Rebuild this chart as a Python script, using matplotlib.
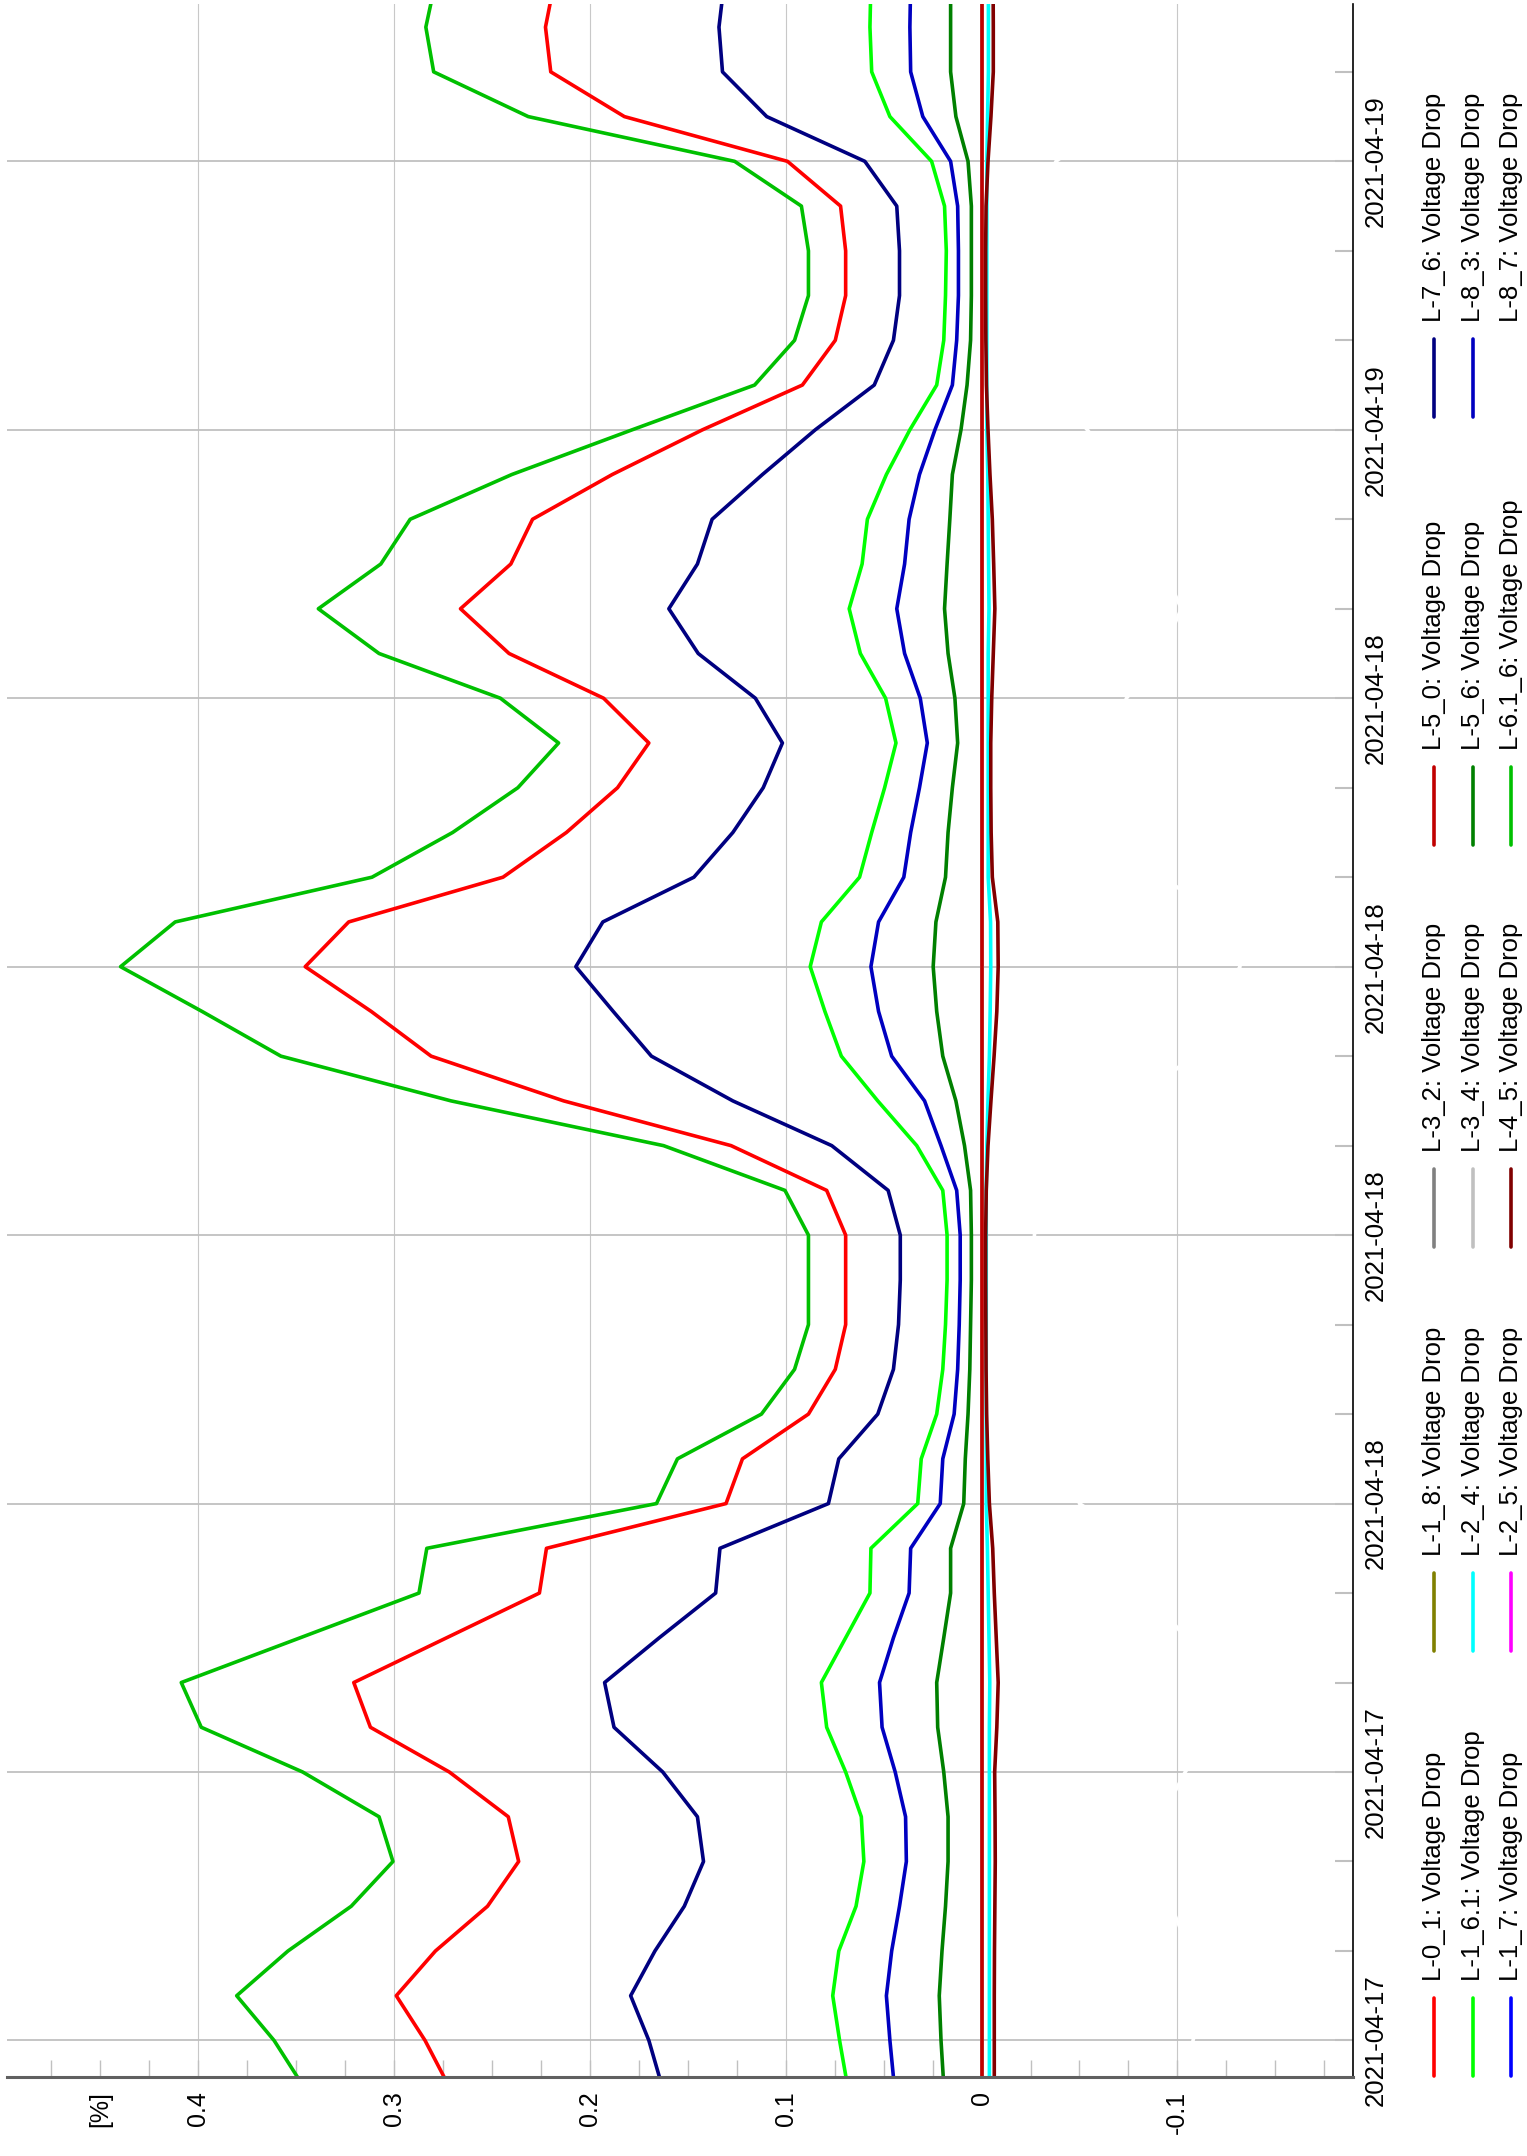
import matplotlib
matplotlib.use('Agg')
import matplotlib.pyplot as plt
import matplotlib.dates as mdates
import pandas as pd
from matplotlib.lines import Line2D
from matplotlib.ticker import MultipleLocator

plt.rcParams['font.family'] = ['Liberation Sans', 'DejaVu Sans']

# hourly samples, 2021-04-17 11:00 .. 2021-04-19 10:00
times = pd.date_range('2021-04-17 11:00', '2021-04-19 10:00', freq='h')

# voltage drop in %
l_0_1 = [0.2723, 0.2842, 0.2989, 0.2789, 0.2523, 0.2364, 0.2417, 0.2718, 0.3121, 0.3206, 0.2732, 0.2258,
         0.2222, 0.1305, 0.1221, 0.0884, 0.0747, 0.0694, 0.0694, 0.0694, 0.0791, 0.1279, 0.2134, 0.2811,
         0.3117, 0.3454, 0.3232, 0.2444, 0.2120, 0.1859, 0.1699, 0.1930, 0.2413, 0.2661, 0.2404, 0.2293,
         0.1886, 0.1425, 0.0915, 0.0747, 0.0694, 0.0694, 0.0720, 0.0991, 0.1824, 0.2200, 0.2227, 0.2182]
l_1_6_1 = [0.0685, 0.0725, 0.0760, 0.0729, 0.0641, 0.0601, 0.0614, 0.0694, 0.0791, 0.0818, 0.0694, 0.0570,
           0.0565, 0.0326, 0.0308, 0.0229, 0.0198, 0.0184, 0.0176, 0.0176, 0.0198, 0.0331, 0.0530, 0.0716,
           0.0800, 0.0875, 0.0818, 0.0623, 0.0561, 0.0495, 0.0437, 0.0490, 0.0619, 0.0676, 0.0610, 0.0583,
           0.0486, 0.0366, 0.0229, 0.0193, 0.0184, 0.0180, 0.0189, 0.0255, 0.0468, 0.0561, 0.0570, 0.0565]
l_2_4 = [-0.0040, -0.0040, -0.0040, -0.0040, -0.0040, -0.0040, -0.0040, -0.0040, -0.0040, -0.0042, -0.0038, -0.0034,
         -0.0030, -0.0024, -0.0024, -0.0024, -0.0024, -0.0024, -0.0024, -0.0024, -0.0024, -0.0027, -0.0033, -0.0040,
         -0.0044, -0.0047, -0.0046, -0.0034, -0.0034, -0.0034, -0.0034, -0.0034, -0.0034, -0.0038, -0.0036, -0.0034,
         -0.0032, -0.0027, -0.0027, -0.0027, -0.0027, -0.0027, -0.0027, -0.0027, -0.0031, -0.0035, -0.0035, -0.0035]
l_4_5 = [-0.0065, -0.0065, -0.0065, -0.0066, -0.0068, -0.0070, -0.0069, -0.0067, -0.0078, -0.0085, -0.0075, -0.0065,
         -0.0057, -0.0040, -0.0032, -0.0026, -0.0023, -0.0022, -0.0021, -0.0021, -0.0024, -0.0033, -0.0048, -0.0064,
         -0.0078, -0.0085, -0.0083, -0.0055, -0.0049, -0.0047, -0.0047, -0.0052, -0.0060, -0.0068, -0.0062, -0.0055,
         -0.0043, -0.0033, -0.0025, -0.0022, -0.0021, -0.0021, -0.0023, -0.0033, -0.0048, -0.0060, -0.0060, -0.0059]
l_5_6 = [0.0193, 0.0207, 0.0216, 0.0202, 0.0184, 0.0171, 0.0171, 0.0193, 0.0224, 0.0229, 0.0193, 0.0158,
         0.0158, 0.0091, 0.0083, 0.0069, 0.0060, 0.0056, 0.0052, 0.0052, 0.0056, 0.0087, 0.0131, 0.0198,
         0.0229, 0.0247, 0.0233, 0.0184, 0.0171, 0.0149, 0.0122, 0.0136, 0.0171, 0.0189, 0.0176, 0.0162,
         0.0149, 0.0105, 0.0074, 0.0056, 0.0052, 0.0052, 0.0052, 0.0069, 0.0131, 0.0158, 0.0158, 0.0158]
l_6_1_6 = [0.3467, 0.3613, 0.3804, 0.3542, 0.3219, 0.3006, 0.3077, 0.3467, 0.3985, 0.4087, 0.3480, 0.2873,
           0.2833, 0.1660, 0.1553, 0.1124, 0.0955, 0.0884, 0.0884, 0.0884, 0.1004, 0.1624, 0.2709, 0.3578,
           0.3981, 0.4397, 0.4118, 0.3113, 0.2701, 0.2368, 0.2160, 0.2457, 0.3077, 0.3387, 0.3068, 0.2918,
           0.2399, 0.1784, 0.1159, 0.0955, 0.0884, 0.0884, 0.0920, 0.1261, 0.2315, 0.2798, 0.2838, 0.2789]
l_7_6 = [0.1633, 0.1699, 0.1792, 0.1668, 0.1518, 0.1420, 0.1451, 0.1628, 0.1877, 0.1925, 0.1646, 0.1358,
         0.1336, 0.0782, 0.0729, 0.0530, 0.0450, 0.0424, 0.0415, 0.0415, 0.0477, 0.0765, 0.1270, 0.1686,
         0.1881, 0.2072, 0.1934, 0.1469, 0.1270, 0.1115, 0.1017, 0.1155, 0.1447, 0.1597, 0.1451, 0.1376,
         0.1119, 0.0849, 0.0548, 0.0450, 0.0419, 0.0419, 0.0433, 0.0596, 0.1097, 0.1323, 0.1341, 0.1314]
l_8_3 = [0.0446, 0.0468, 0.0486, 0.0459, 0.0419, 0.0384, 0.0388, 0.0441, 0.0508, 0.0521, 0.0450, 0.0370,
         0.0362, 0.0211, 0.0198, 0.0140, 0.0122, 0.0114, 0.0109, 0.0109, 0.0127, 0.0207, 0.0291, 0.0459,
         0.0526, 0.0565, 0.0526, 0.0397, 0.0362, 0.0317, 0.0277, 0.0313, 0.0393, 0.0433, 0.0393, 0.0370,
         0.0317, 0.0238, 0.0149, 0.0127, 0.0118, 0.0118, 0.0122, 0.0158, 0.0300, 0.0362, 0.0366, 0.0362]
# white trace: only shows where it cuts the grid lines
l_8_7 = [-0.104, -0.108, -0.114, -0.106, -0.097, -0.090, -0.092, -0.104, -0.120, -0.123, -0.104, -0.086,
         -0.085, -0.050, -0.047, -0.034, -0.029, -0.027, -0.027, -0.027, -0.030, -0.049, -0.081, -0.107,
         -0.119, -0.132, -0.124, -0.093, -0.081, -0.071, -0.065, -0.074, -0.092, -0.102, -0.092, -0.088,
         -0.072, -0.054, -0.035, -0.029, -0.027, -0.027, -0.028, -0.038, -0.069, -0.084, -0.085, -0.084]
# these sit on the zero line (hidden under L-5_0)
zero_line = [0.0] * 48
l_1_7 = zero_line
l_1_8 = zero_line
l_2_5 = zero_line
l_3_2 = zero_line
l_3_4 = zero_line
l_5_0 = zero_line

names = ['L-0_1', 'L-1_6.1', 'L-1_7', 'L-1_8', 'L-2_4', 'L-2_5', 'L-3_2', 'L-3_4',
         'L-4_5', 'L-5_0', 'L-5_6', 'L-6.1_6', 'L-7_6', 'L-8_3', 'L-8_7']
series = [l_0_1, l_1_6_1, l_1_7, l_1_8, l_2_4, l_2_5, l_3_2, l_3_4,
          l_4_5, l_5_0, l_5_6, l_6_1_6, l_7_6, l_8_3, l_8_7]
colors = ['#ff0000', '#00ff00', '#0000ff', '#808000', '#00ffff', '#ff00ff', '#808080', '#c0c0c0',
          '#800000', '#c00000', '#008000', '#00c000', '#000080', '#0000c0', '#ffffff']

value_ticks = [-0.1, 0.0, 0.1, 0.2, 0.3, 0.4]
value_labels = ['-0.1', '0', '0.1', '0.2', '0.3', '0.4']

W, H = 1527, 2156
fig = plt.figure(figsize=(W / 100, H / 100), dpi=100)
# chart is drawn turned on its side: value runs right-to-left, time runs upward
ax = fig.add_axes([7 / W, 1 - 2077 / H, (1353 - 7) / W, (2077 - 4) / H])

for v in value_ticks:
    ax.axvline(v, color='#c8c8c8', lw=0.8, zorder=1)

for vals, col in zip(series, colors):
    ax.plot(vals, times, color=col, lw=2.6, zorder=2)

ax.set_xlim(0.4977, -0.1897)
ax.set_ylim(pd.Timestamp('2021-04-17 11:11'), pd.Timestamp('2021-04-19 09:31'))

ax.set_xticks(value_ticks + [0.45])
ax.set_xticklabels(value_labels + ['[%]'])
ax.xaxis.set_minor_locator(MultipleLocator(0.025))
ax.tick_params(axis='x', which='both', direction='in', length=12, color='#c0c0c0', width=1,
               labelrotation=90, pad=10, labelsize=18)

ax.yaxis.tick_right()
ax.yaxis.set_major_locator(mdates.HourLocator(byhour=[0, 6, 12, 18]))
ax.yaxis.set_minor_locator(mdates.HourLocator(byhour=range(0, 24, 2)))
ax.yaxis.set_major_formatter(mdates.DateFormatter('%Y-%m-%d'))
ax.tick_params(axis='y', which='both', direction='in', length=13, color='#c0c0c0', width=1.5,
               labelrotation=90, pad=8, labelsize=18.5)
ax.grid(axis='y', which='major', color='#c0c0c0', lw=1.3, zorder=1)

for side in ['top', 'left']:
    ax.spines[side].set_visible(False)
ax.spines['bottom'].set_color('#606060')
ax.spines['bottom'].set_linewidth(2.2)
ax.spines['right'].set_color('black')
ax.spines['right'].set_linewidth(1.2)

# legend, laid out by hand (rotated like the rest)
rows_x = [1434, 1473, 1511]
group_y = [2076, 1651, 1247, 845, 417]
for i, (name, col) in enumerate(zip(names, colors)):
    g, r = divmod(i, 3)
    x = rows_x[r] / W
    fig.add_artist(Line2D([x, x], [1 - group_y[g] / H, 1 - (group_y[g] - 78) / H],
                          color=col, lw=2.6, solid_capstyle='round', transform=fig.transFigure))
    fig.text(x, 1 - (group_y[g] - 95) / H, name + ': Voltage Drop', rotation=90,
             ha='center', va='bottom', fontsize=18.5)

fig.canvas.draw()
for lbl in ax.get_yticklabels():
    lbl.set_va('center')

fig.savefig('out.png', dpi=100)
